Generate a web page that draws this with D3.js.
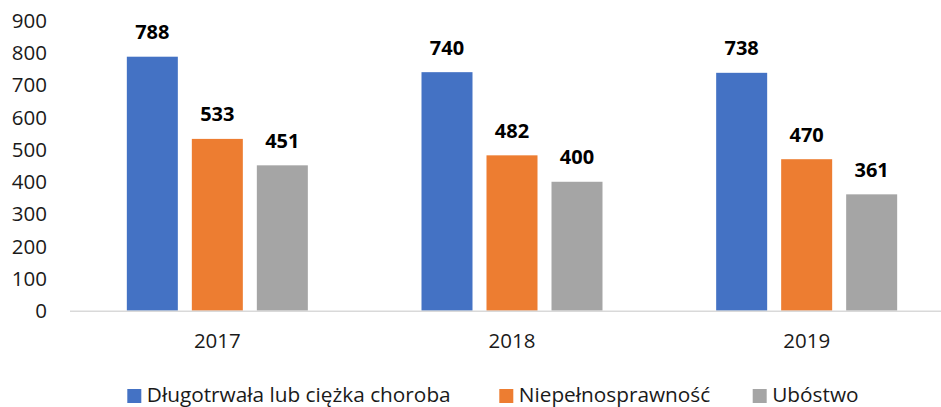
<!DOCTYPE html>
<html>
<head>
<meta charset="utf-8">
<script src="https://d3js.org/d3.v7.min.js"></script>
<style>
  body { margin: 0; background: #fff; font-family: "Open Sans", "Liberation Sans", Arial, sans-serif; }
</style>
</head>
<body>
<script>
// chart data
var years = ["2017", "2018", "2019"];
var seriesNames = ["Długotrwała lub ciężka choroba", "Niepełnosprawność", "Ubóstwo"];
var chronicIllness = [788, 740, 738];
var disability = [533, 482, 470];
var poverty = [451, 400, 361];
var yTicks = [0, 100, 200, 300, 400, 500, 600, 700, 800, 900];
var colors = ["#4472C4", "#ED7D31", "#A5A5A5"];

var seriesValues = [chronicIllness, disability, poverty];

var W = 941, H = 407;
var svg = d3.select("body").append("svg").attr("width", W).attr("height", H);

// plot area (runs off the right edge, like the original)
var x0 = d3.scaleBand().domain(years).range([70, 954]);
var y = d3.scaleLinear().domain([0, 900]).range([310.7, 20.6]);

var barW = 51, barStep = 65;
// offset of bar i from the group centre
function barOffset(i) { return (i - 1) * barStep - barW / 2; }

// y labels
svg.append("g").selectAll("text")
  .data(yTicks)
  .enter().append("text")
  .attr("x", 47)
  .attr("y", function (d) { return y(d); })
  .attr("dy", "0.36em")
  .attr("text-anchor", "end")
  .style("font-size", "20.5px")
  .style("fill", "#1a1a1a")
  .text(function (d) { return d; });

// bars
years.forEach(function (yr, j) {
  var cx = x0(yr) + x0.bandwidth() / 2;
  var g = svg.append("g");
  seriesValues.forEach(function (vals, i) {
    var v = vals[j];
    g.append("rect")
      .attr("x", cx + barOffset(i))
      .attr("y", y(v))
      .attr("width", barW)
      .attr("height", y(0) - y(v))
      .attr("fill", colors[i]);
    g.append("text")
      .attr("x", cx + barOffset(i) + barW / 2)
      .attr("y", y(v) - 17.5)
      .attr("text-anchor", "middle")
      .style("font-size", "20px")
      .style("font-weight", "bold")
      .style("fill", "#000")
      .text(v);
  });
});

// axis line
svg.append("line")
  .attr("x1", 70).attr("x2", W)
  .attr("y1", y(0) + 0.5).attr("y2", y(0) + 0.5)
  .attr("stroke", "#D9D9D9")
  .attr("stroke-width", 1.6);

// x labels
svg.append("g").selectAll("text")
  .data(years)
  .enter().append("text")
  .attr("x", function (d) { return x0(d) + x0.bandwidth() / 2; })
  .attr("y", 348)
  .attr("text-anchor", "middle")
  .style("font-size", "20.5px")
  .style("fill", "#1a1a1a")
  .text(function (d) { return d; });

// legend
var legendX = [127.3, 499.3, 752.7];
var legend = svg.append("g");
seriesNames.forEach(function (name, i) {
  legend.append("rect")
    .attr("x", legendX[i]).attr("y", 389)
    .attr("width", 14).attr("height", 14)
    .attr("fill", colors[i]);
  legend.append("text")
    .attr("x", legendX[i] + 19.5)
    .attr("y", 402)
    .style("font-size", "20.8px")
    .style("fill", "#1a1a1a")
    .text(name);
});
</script>
</body>
</html>
